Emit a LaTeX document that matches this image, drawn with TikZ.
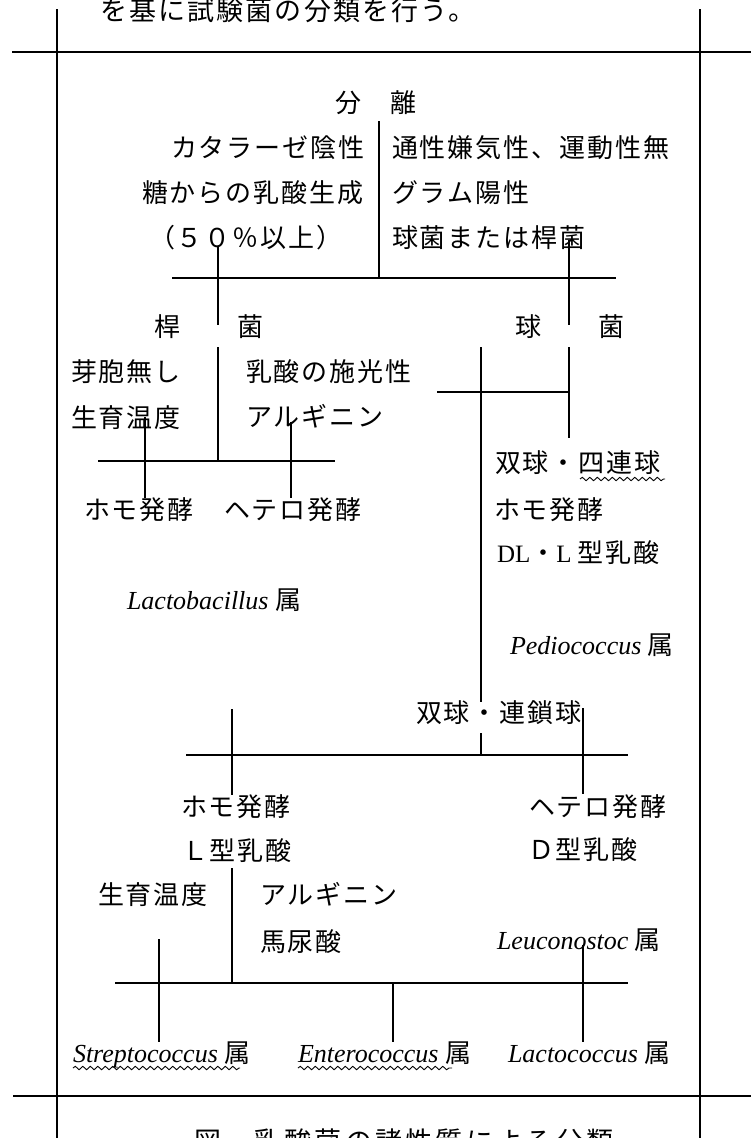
\documentclass[tikz,border=0pt]{standalone}
\usepackage{fontspec}
\usetikzlibrary{decorations.pathmorphing}
\newfontfamily\jpf{Noto Sans CJK JP}[LetterSpace=7.7]
\newfontfamily\tmf{Liberation Serif}
\newcommand\gen[1]{{\tmf\itshape\fontsize{26}{28}\selectfont #1\ }}
\newcommand\rmn[1]{{\tmf\fontsize{25}{28}\selectfont #1}}
\tikzset{
  lbl/.style={inner sep=0pt, outer sep=0pt, anchor=west, text height=21.6pt, text depth=1.8pt,
    font=\jpf\fontsize{26}{28}\selectfont},
  bigtxt/.style={lbl, text height=22.4pt, font=\jpf\fontsize{27}{30}\selectfont\addfontfeature{LetterSpace=8}},
  captxt/.style={lbl, text height=22.4pt, font=\jpf\fontsize{27}{30}\selectfont\addfontfeature{LetterSpace=12}},
  ln/.style={line width=1.6pt},
  frm/.style={line width=1.8pt},
  wavy/.style={line width=0.9pt, decorate, decoration={snake, amplitude=1.7pt, segment length=7.5pt}},
}
\begin{document}
\begin{tikzpicture}[x=1pt,y=-1pt]
\useasboundingbox (0,0) rectangle (751,1138);
% frame
\coordinate (fLT) at (57,9);   \coordinate (fLB) at (57,1138);
\coordinate (fRT) at (700,9);  \coordinate (fRB) at (700,1138);
\coordinate (fTL) at (12,52);  \coordinate (fTR) at (751,52);
\coordinate (fBL) at (13,1096);\coordinate (fBR) at (751,1096);
\draw[frm] (fLT) -- (fLB);
\draw[frm] (fRT) -- (fRB);
\draw[frm] (fTL) -- (fTR);
\draw[frm] (fBL) -- (fBR);

% texts
\node[bigtxt] (intro) at (100,10.2) {を基に試験菌の分類を行う。};
\node[lbl] (iso) at (335,103) {分　離};
\node[lbl] (c1) at (171,148) {カタラーゼ陰性};
\node[lbl] (c2) at (142,193) {糖からの乳酸生成};
\node[lbl] (c3) at (149,238) {（５０％以上）};
\node[lbl] (c4) at (392,148) {通性嫌気性、運動性無};
\node[lbl] (c5) at (392,193) {グラム陽性};
\node[lbl] (c6) at (392,238) {球菌または桿菌};
\node[lbl] (rod) at (154,327) {桿　　菌};
\node[lbl] (coc) at (515,327) {球　　菌};
\node[lbl] (r1) at (71,372) {芽胞無し};
\node[lbl] (r2) at (71,418) {生育温度};
\node[lbl] (r3) at (246,372) {乳酸の施光性};
\node[lbl] (r4) at (246,417) {アルギニン};
\node[lbl] (homo1) at (84,510) {ホモ発酵};
\node[lbl] (hetero1) at (224,510) {ヘテロ発酵};
\node[lbl] (lacto) at (127,600) {\gen{Lactobacillus}属};
\node[lbl] (k1) at (495,463) {双球・四連球};
\node[lbl] (k2) at (494,510) {ホモ発酵};
\node[lbl] (k3) at (497,553) {\rmn{DL}・\rmn{L\ }型乳酸};
\node[lbl] (pedio) at (510,645) {\gen{Pediococcus}属};
\node[lbl] (strep) at (416,713) {双球・連鎖球};
\node[lbl] (homo2) at (181,807) {ホモ発酵};
\node[lbl] (llac) at (182,851) {Ｌ型乳酸};
\node[lbl] (hetero2) at (529,807) {ヘテロ発酵};
\node[lbl] (dlac) at (528,850) {Ｄ型乳酸};
\node[lbl] (temp2) at (98,895) {生育温度};
\node[lbl] (arg2) at (260,895) {アルギニン};
\node[lbl] (hip) at (260,942) {馬尿酸};
\node[lbl] (leuco) at (497,940) {\gen{Leuconostoc}属};
\node[lbl] (streptoc) at (73,1053) {\gen{Streptococcus}属};
\node[lbl] (entero) at (298,1053) {\gen{Enterococcus}属};
\node[lbl] (lactoc) at (508,1053) {\gen{Lactococcus}属};
\node[captxt] (caption) at (194,1141) {図　乳酸菌の諸性質による分類};

% connector points
\coordinate (a1) at (379,121);  \coordinate (a2) at (379,278);
\coordinate (a3) at (172,278);  \coordinate (a4) at (616,278);
\coordinate (a5) at (218,247);  \coordinate (a6) at (218,325);
\coordinate (a7) at (569,240);  \coordinate (a8) at (569,325);
\coordinate (b1) at (218,347);  \coordinate (b2) at (218,461);
\coordinate (b3) at (98,461);   \coordinate (b4) at (335,461);
\coordinate (b5) at (145,417);  \coordinate (b6) at (145,498);
\coordinate (b7) at (291,422);  \coordinate (b8) at (291,498);
\coordinate (d1) at (569,347);  \coordinate (d2) at (569,438);
\coordinate (d3) at (481,347);  \coordinate (d4) at (481,702);
\coordinate (d5) at (437,392);  \coordinate (d6) at (569,392);
\coordinate (e1) at (481,733);  \coordinate (e2) at (481,755);
\coordinate (e3) at (186,755);  \coordinate (e4) at (628,755);
\coordinate (e5) at (232,709);  \coordinate (e6) at (232,795);
\coordinate (e7) at (583,708);  \coordinate (e8) at (583,794);
\coordinate (g1) at (232,868);  \coordinate (g2) at (232,983);
\coordinate (g3) at (115,983);  \coordinate (g4) at (628,983);
\coordinate (g5) at (159,939);  \coordinate (g6) at (159,1042);
\coordinate (g7) at (393,983);  \coordinate (g8) at (393,1042);
\coordinate (g9) at (583,945);  \coordinate (g10) at (583,1042);

\draw[ln] (a1) -- (a2);
\draw[ln] (a3) -- (a4);
\draw[ln] (a5) -- (a6);
\draw[ln] (a7) -- (a8);
\draw[ln] (b1) -- (b2);
\draw[ln] (b3) -- (b4);
\draw[ln] (b5) -- (b6);
\draw[ln] (b7) -- (b8);
\draw[ln] (d1) -- (d2);
\draw[ln] (d3) -- (d4);
\draw[ln] (d5) -- (d6);
\draw[ln] (e1) -- (e2);
\draw[ln] (e3) -- (e4);
\draw[ln] (e5) -- (e6);
\draw[ln] (e7) -- (e8);
\draw[ln] (g1) -- (g2);
\draw[ln] (g3) -- (g4);
\draw[ln] (g5) -- (g6);
\draw[ln] (g7) -- (g8);
\draw[ln] (g9) -- (g10);

% wavy underlines
\coordinate (w1) at (580,479); \coordinate (w2) at (665,479);
\coordinate (w3) at (73,1068); \coordinate (w4) at (240,1068);
\coordinate (w5) at (298,1068); \coordinate (w6) at (452,1068);
\draw[wavy] (w1) -- (w2);
\draw[wavy] (w3) -- (w4);
\draw[wavy] (w5) -- (w6);
\end{tikzpicture}
\end{document}
